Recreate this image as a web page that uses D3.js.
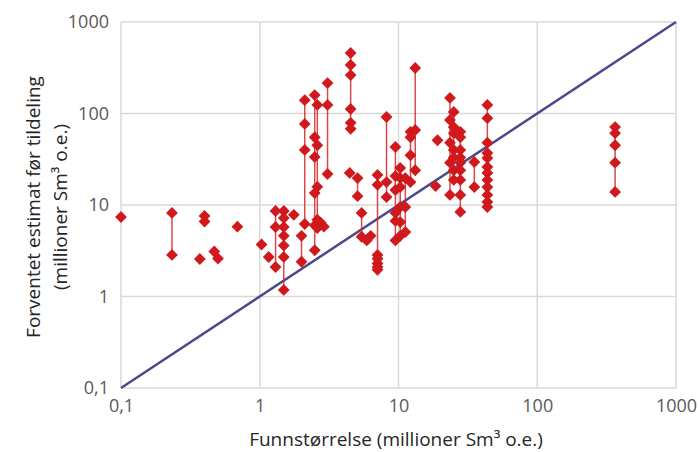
<!DOCTYPE html>
<html>
<head>
<meta charset="utf-8">
<script src="https://cdn.jsdelivr.net/npm/d3@7"></script>
<style>
  body { margin: 0; background: #fff; }
  #chart { width: 699px; height: 452px; }
  text { font-family: "Open Sans", "Noto Sans", sans-serif; }
</style>
</head>
<body>
<div id="chart"></div>
<script>
// discovery size (x) and the estimates made before award (y) for each discovery
const discoverySize = [
  0.1, 0.233, 0.37, 0.40, 0.47, 0.50, 0.69, 1.03, 1.16, 1.30, 1.49, 1.76,
  2.0, 2.11, 2.49, 2.6, 2.75, 2.9, 3.08, 4.45, 4.52, 5.07, 5.42, 5.9, 6.3,
  7.06, 8.2, 9.5, 10.3, 11.2, 12.2, 13.2, 18.5, 19.1, 23.5, 25, 27.9, 35.2,
  43.7, 364
];
const estimates = [
  [7.4], [8.2, 2.85], [2.57], [7.6, 6.6], [3.1], [2.6], [5.8], [3.7], [2.7],
  [8.6, 5.75, 2.1], [8.6, 7.2, 5.75, 4.6, 3.6, 2.7, 1.18], [7.8],
  [4.6, 2.4], [140, 77, 40, 6.2], [159, 55, 33.5, 13.5, 6.0, 3.2],
  [124, 45, 15.8, 6.9, 5.6], [6.4], [5.8], [215, 124, 21.8],
  [22.4], [458, 339, 263, 112, 79, 68], [19.7, 12.5], [8.2, 4.5], [4.1], [4.6],
  [21.3, 16.6, 2.84, 2.58, 2.3, 2.1, 1.96], [91.6, 17.8, 12.2],
  [43, 20.7, 14.6, 8.2, 6.7, 4.1], [25.4, 19.7, 15.7, 9.5, 6.5, 4.6],
  [19.7, 9.5, 5.07], [63, 55, 35, 17.8], [314, 66, 24], [16.1], [51],
  [148, 85, 48, 29, 12.9], [104, 71, 61, 40, 33, 24, 18.8],
  [63, 55, 40, 33, 29, 24, 18.8, 12.9, 8.4], [29.5, 15.7],
  [124, 89, 48, 37, 32.6, 26, 22.4, 18.8, 15.7, 12.9, 10.8, 9.5],
  [71, 61, 45, 29, 13.9]
];
const tickValues = [0.1, 1, 10, 100, 1000];
const tickLabels = ["0,1", "1", "10", "100", "1000"];
const xTitle = "Funnstørrelse (millioner Sm³ o.e.)";
const yTitle = ["Forventet estimat før tildeling", "(millioner Sm³ o.e.)"];

const width = 699, height = 452;
const margin = { top: 22, right: 23, bottom: 64, left: 121 };

const svg = d3.select("#chart")
  .append("svg")
  .attr("width", width)
  .attr("height", height);

const x = d3.scaleLog().domain([0.1, 1000]).range([margin.left, width - margin.right]);
const y = d3.scaleLog().domain([0.1, 1000]).range([height - margin.bottom, margin.top]);

// grid
svg.append("g")
  .selectAll("line")
  .data(tickValues)
  .join("line")
  .attr("x1", d => x(d)).attr("x2", d => x(d))
  .attr("y1", y(0.1)).attr("y2", y(1000))
  .attr("stroke", "#d9d9d9").attr("stroke-width", 1.5);

svg.append("g")
  .selectAll("line")
  .data(tickValues)
  .join("line")
  .attr("y1", d => y(d)).attr("y2", d => y(d))
  .attr("x1", x(0.1)).attr("x2", x(1000))
  .attr("stroke", "#d9d9d9").attr("stroke-width", 1.5);

// axes (labels only)
const xAxis = svg.append("g")
  .attr("transform", `translate(0,${y(0.1)})`)
  .call(d3.axisBottom(x).tickValues(tickValues).tickFormat((d, i) => tickLabels[i]).tickSize(0).tickPadding(11));
const yAxis = svg.append("g")
  .attr("transform", `translate(${x(0.1)},0)`)
  .call(d3.axisLeft(y).tickValues(tickValues).tickFormat((d, i) => tickLabels[i]).tickSize(0).tickPadding(12));
[xAxis, yAxis].forEach(a => {
  a.select(".domain").remove();
  a.selectAll("text").attr("font-size", 18).attr("fill", "#595959")
    .attr("font-family", "'Open Sans', sans-serif");
});

// diagonal 1:1 line
svg.append("line")
  .attr("x1", x(0.1)).attr("y1", y(0.1))
  .attr("x2", x(1000)).attr("y2", y(1000))
  .attr("stroke", "#4a4a8a").attr("stroke-width", 2.5);

// groups of estimates
const groups = discoverySize.map((s, i) => ({ size: s, vals: estimates[i] }));

svg.append("g")
  .selectAll("line")
  .data(groups.filter(g => g.vals.length > 1))
  .join("line")
  .attr("x1", d => x(d.size)).attr("x2", d => x(d.size))
  .attr("y1", d => y(d3.max(d.vals))).attr("y2", d => y(d3.min(d.vals)))
  .attr("stroke", "#d42a2a").attr("stroke-width", 1.5).attr("opacity", 0.85);

const points = groups.flatMap(g => g.vals.map(v => ({ size: g.size, v })));
const diamond = d3.symbol(d3.symbolSquare, 70);

svg.append("g")
  .selectAll("path")
  .data(points)
  .join("path")
  .attr("d", diamond)
  .attr("transform", d => `translate(${x(d.size)},${y(d.v)}) rotate(45)`)
  .attr("fill", "#d0191c");

// titles
svg.append("text")
  .attr("x", 396)
  .attr("y", 446)
  .attr("text-anchor", "middle")
  .attr("font-size", 19)
  .attr("fill", "#262626")
  .text(xTitle);

svg.append("g")
  .attr("transform", `translate(0,${(y(0.1) + y(1000)) / 2 + 2})`)
  .selectAll("text")
  .data(yTitle)
  .join("text")
  .attr("transform", (d, i) => `translate(${40 + i * 27},0) rotate(-90)`)
  .attr("text-anchor", "middle")
  .attr("font-size", 19)
  .attr("fill", "#262626")
  .text(d => d);
</script>
</body>
</html>
